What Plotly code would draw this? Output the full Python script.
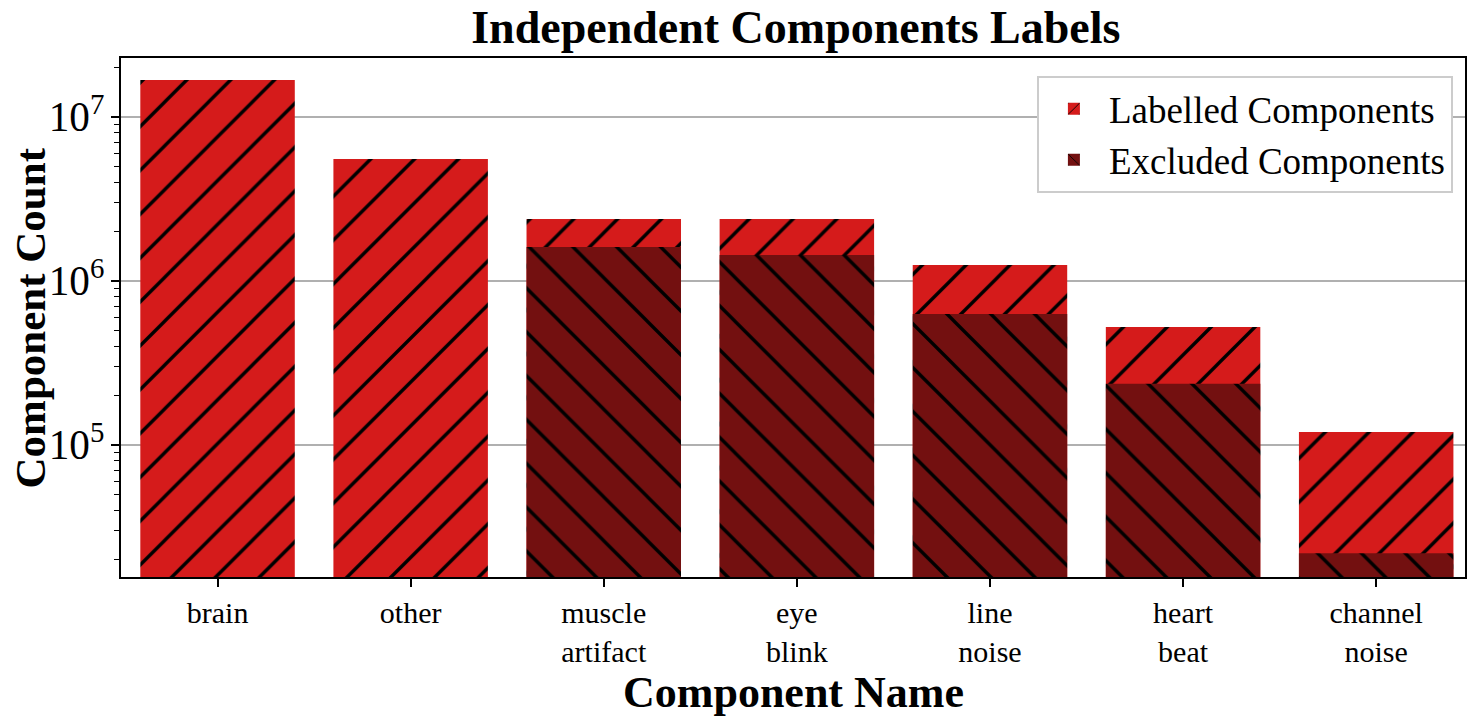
import plotly.graph_objects as go

categories = ["brain", "other", "muscle<br>artifact", "eye<br>blink",
              "line<br>noise", "heart<br>beat", "channel<br>noise"]
labelled = [1.68e7, 5.55e6, 2.39e6, 2.39e6, 1.25e6, 5.24e5, 1.20e5]
excluded = [None, None, 1.61e6, 1.44e6, 6.3e5, 2.36e5, 2.19e4]

FONT = "Liberation Serif"
RED = "#d51b1b"
DARK = "#731010"

fig = go.Figure()
fig.add_trace(go.Bar(
    x=categories, y=labelled, name="Labelled Components",
    width=0.8,
    marker=dict(color=RED, line=dict(width=0),
                pattern=dict(shape="/", fgcolor="black", bgcolor=RED, fgopacity=1,
                             fillmode="overlay", size=31, solidity=0.11)),
))
fig.add_trace(go.Bar(
    x=categories, y=excluded, name="Excluded Components",
    width=0.8,
    marker=dict(color=DARK, line=dict(width=0),
                pattern=dict(shape="\\", fgcolor="black", bgcolor=DARK, fgopacity=1,
                             fillmode="overlay", size=31, solidity=0.11)),
))

# the page body adds an 8px margin, so the figure is drawn 8px in from the top-left
fig.update_layout(
    width=1467, height=711,
    barmode="overlay",
    plot_bgcolor="white", paper_bgcolor="white",
    margin=dict(l=113, r=10, t=50, b=142, autoexpand=False),
    font=dict(family=FONT, size=30, color="black"),
    title=dict(text="<b>Independent Components Labels</b>", x=0.537, xanchor="center",
               y=0.973, yanchor="middle", font=dict(size=46), automargin=False),
    legend=dict(x=0.991, y=0.965, xanchor="right", yanchor="top",
                bgcolor="white", bordercolor="#cccccc", borderwidth=2,
                font=dict(size=37), itemwidth=60, tracegroupgap=4),
    annotations=[
        dict(text="<b>Component Name</b>", xref="paper", yref="paper",
             x=0.5, y=-0.222, xanchor="center", yanchor="middle",
             showarrow=False, font=dict(size=44)),
        dict(text="<b>Component Count</b>", xref="paper", yref="paper",
             x=-0.067, y=0.5, xanchor="center", yanchor="middle", textangle=-90,
             showarrow=False, font=dict(size=43)),
    ],
)
fig.update_xaxes(
    range=[-0.5, 6.46], automargin=False,
    showline=True, linecolor="black", linewidth=2, mirror=True,
    ticks="outside", ticklen=8, tickwidth=1.5, tickcolor="black",
    showgrid=False,
)
fig.update_yaxes(
    type="log", range=[4.195, 7.36], dtick=1, exponentformat="power", automargin=False,
    tickfont=dict(size=33),
    showline=True, linecolor="black", linewidth=2, mirror=True,
    ticks="outside", ticklen=8, tickwidth=1.5, tickcolor="black",
    showgrid=True, gridcolor="#b0b0b0", gridwidth=1.5,
    minor=dict(ticks="outside", ticklen=5, tickwidth=1, tickcolor="black", showgrid=False),
)

fig.write_html("out.html")
